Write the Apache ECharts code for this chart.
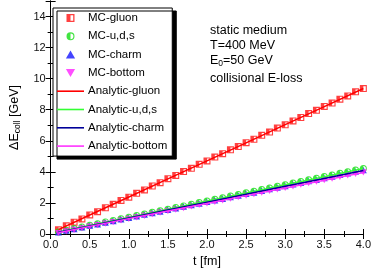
<!DOCTYPE html>
<html><head><meta charset="utf-8">
<script src="https://cdn.jsdelivr.net/npm/echarts@6/dist/echarts.min.js"></script>
<style>html,body{margin:0;padding:0;background:#fff}#c{width:374px;height:273px}</style>
</head><body><div id="c"></div>
<script>
// ---- data ----
const tMC = [0.1,0.2,0.3,0.4,0.5,0.6,0.7,0.8,0.9,1.0,1.1,1.2,1.3,1.4,1.5,1.6,1.7,1.8,1.9,2.0,
             2.1,2.2,2.3,2.4,2.5,2.6,2.7,2.8,2.9,3.0,3.1,3.2,3.3,3.4,3.5,3.6,3.7,3.8,3.9,4.0];
const mcGluon = [0.27,0.53,0.76,0.97,1.23,1.44,1.69,1.91,2.16,2.37,2.62,2.84,3.09,3.30,3.56,3.77,4.02,4.23,4.49,4.70,
                 4.95,5.17,5.42,5.63,5.88,6.10,6.35,6.56,6.82,7.03,7.28,7.50,7.75,7.96,8.21,8.43,8.68,8.89,9.15,9.36];
const mcUds   = [0.13,0.24,0.35,0.45,0.57,0.66,0.78,0.87,0.98,1.08,1.19,1.28,1.40,1.49,1.60,1.70,1.81,1.91,2.02,2.12,
                 2.23,2.33,2.44,2.54,2.65,2.75,2.86,2.96,3.07,3.17,3.28,3.38,3.49,3.59,3.70,3.80,3.91,4.01,4.12,4.22];
const mcCharm = [0.10,0.21,0.32,0.42,0.53,0.62,0.73,0.83,0.94,1.03,1.14,1.24,1.35,1.44,1.55,1.65,1.76,1.85,1.96,2.06,
                 2.17,2.26,2.37,2.47,2.58,2.67,2.78,2.88,2.99,3.08,3.19,3.29,3.40,3.49,3.60,3.70,3.81,3.90,4.01,4.11];
const mcBottom= [0.06,0.17,0.27,0.37,0.47,0.57,0.67,0.77,0.87,0.97,1.07,1.17,1.27,1.37,1.47,1.57,1.67,1.77,1.87,1.97,
                 2.07,2.17,2.27,2.37,2.47,2.57,2.67,2.77,2.87,2.97,3.07,3.17,3.27,3.37,3.47,3.57,3.67,3.77,3.87,3.97];
const tAn = [0.1,0.5,1.0,1.5,2.0,2.5,3.0,3.5,4.0];
const anGluon  = [0.28,1.22,2.38,3.55,4.71,5.87,7.04,8.20,9.37];
const anUds    = [0.12,0.55,1.07,1.60,2.12,2.64,3.17,3.69,4.22];
const anCharm  = [0.11,0.52,1.03,1.54,2.05,2.56,3.07,3.58,4.09];
const anBottom = [0.08,0.49,0.99,1.48,1.97,2.47,2.96,3.46,3.96];
const xTicks = [0.0,0.5,1.0,1.5,2.0,2.5,3.0,3.5,4.0];
const yTicks = [0,2,4,6,8,10,12,14];

const pair = (xs, ys) => xs.map((x,i)=>[x,ys[i]]);
const sqHalf = 'path://M0,0H10V10H0Z M5,1.6V8.4H8.4V1.6Z';
const circHalf = 'path://M5,0A5,5 0 1,1 5,10A5,5 0 1,1 5,0Z M5,1.4L5,8.6A3.6,3.6 0 0,0 5,1.4Z';
const triUp = 'path://M5,0L10,8.7H0Z';
const triDown = 'path://M0,0H10L5,8.7Z';
const lineIcon = 'path://M0,0H27V1.6H0Z';
const font = 'Liberation Sans, Arial, sans-serif';

const chart = echarts.init(document.getElementById('c'));
const axisCommon = {
  min: 0, axisLine:{lineStyle:{color:'#000',width:1}},
  axisTick:{inside:true,length:5,lineStyle:{color:'#000'}},
  minorTick:{show:true,splitNumber:2,length:3,lineStyle:{color:'#000'}},
  splitLine:{show:false}
};
chart.setOption({
  animation:false,
  grid:{left:39.5,right:9,top:1,bottom:31.5},
  xAxis:[
    Object.assign({type:'value',max:4,interval:0.5,position:'bottom',
      axisLabel:{fontFamily:font,fontSize:11,color:'#111',margin:5,formatter:v=>v.toFixed(1)},
      name:'t [fm]',nameLocation:'middle',nameGap:21,
      nameTextStyle:{fontFamily:font,fontSize:12.5,color:'#000'}}, axisCommon),
    Object.assign({type:'value',max:4,interval:0.5,position:'top',axisLabel:{show:false}}, axisCommon)
  ],
  yAxis:[
    Object.assign({type:'value',max:15,interval:2,position:'left',
      axisLabel:{fontFamily:font,fontSize:11,color:'#111',margin:5,
        formatter:v=>yTicks.indexOf(v)>=0?String(v):''},
      name:'{a|ΔE}{b|coll}{a| [GeV]}',nameLocation:'middle',nameGap:20,
      nameTextStyle:{fontFamily:font,color:'#000',
        rich:{a:{fontFamily:font,fontSize:12.5,color:'#000'},
              b:{fontFamily:font,fontSize:8.5,color:'#000',padding:[7,0,0,0]}}}}, axisCommon),
    Object.assign({type:'value',max:15,interval:2,position:'right',axisLabel:{show:false}}, axisCommon)
  ],
  legend:{
    orient:'vertical',left:53,top:8,
    padding:[4,5,4,4],itemGap:6.3,itemWidth:27,itemHeight:8,symbolKeepAspect:true,
    backgroundColor:'#fff',borderColor:'#000',borderWidth:1,
    shadowColor:'#000',shadowOffsetX:4,shadowOffsetY:3,shadowBlur:0,
    textStyle:{fontFamily:font,fontSize:11.5,color:'#000',padding:[0,0,0,-1]},
    data:[
      {name:'MC-gluon',icon:sqHalf},
      {name:'MC-u,d,s',icon:circHalf},
      {name:'MC-charm',icon:triUp},
      {name:'MC-bottom',icon:triDown},
      {name:'Analytic-gluon',icon:lineIcon},
      {name:'Analytic-u,d,s',icon:lineIcon},
      {name:'Analytic-charm',icon:lineIcon},
      {name:'Analytic-bottom',icon:lineIcon}
    ]
  },
  graphic:[
    {type:'text',left:210,top:24,style:{text:'static medium',font:'12.5px '+font,fill:'#000'}},
    {type:'text',left:210,top:39,style:{text:'T=400 MeV',font:'12.5px '+font,fill:'#000'}},
    {type:'text',left:210,top:54,style:{text:'{a|E}{b|0}{a|=50 GeV}',
      rich:{a:{fontFamily:font,fontSize:12.5,fill:'#000'},b:{fontFamily:font,fontSize:8.5,fill:'#000',padding:[6,0,0,0]}}}},
    {type:'text',left:210,top:72,style:{text:'collisional E-loss',font:'12.5px '+font,fill:'#000'}}
  ],
  series:[
    {name:'MC-gluon',type:'scatter',data:pair(tMC,mcGluon),symbol:sqHalf,symbolSize:7,itemStyle:{color:'#ff1010'},z:2},
    {name:'MC-u,d,s',type:'scatter',data:pair(tMC,mcUds),symbol:circHalf,symbolSize:7,itemStyle:{color:'#11dd11'},z:2},
    {name:'MC-charm',type:'scatter',data:pair(tMC,mcCharm),symbol:triUp,symbolSize:[7,6.2],itemStyle:{color:'#1515ff'},z:2},
    {name:'MC-bottom',type:'scatter',data:pair(tMC,mcBottom),symbol:triDown,symbolSize:[7,6.2],itemStyle:{color:'#ff22ff'},z:2},
    {name:'Analytic-gluon',type:'line',data:pair(tAn,anGluon),symbol:'none',lineStyle:{color:'#ff0000',width:1.5},itemStyle:{color:'#ff0000'},z:3},
    {name:'Analytic-u,d,s',type:'line',data:pair(tAn,anUds),symbol:'none',lineStyle:{color:'#33ff33',width:1.5},itemStyle:{color:'#33ff33'},z:3},
    {name:'Analytic-charm',type:'line',data:pair(tAn,anCharm),symbol:'none',lineStyle:{color:'#000099',width:1.5},itemStyle:{color:'#000099'},z:3},
    {name:'Analytic-bottom',type:'line',data:pair(tAn,anBottom),symbol:'none',lineStyle:{color:'#ff33ff',width:1.5},itemStyle:{color:'#ff33ff'},z:3}
  ]
});
</script></body></html>
